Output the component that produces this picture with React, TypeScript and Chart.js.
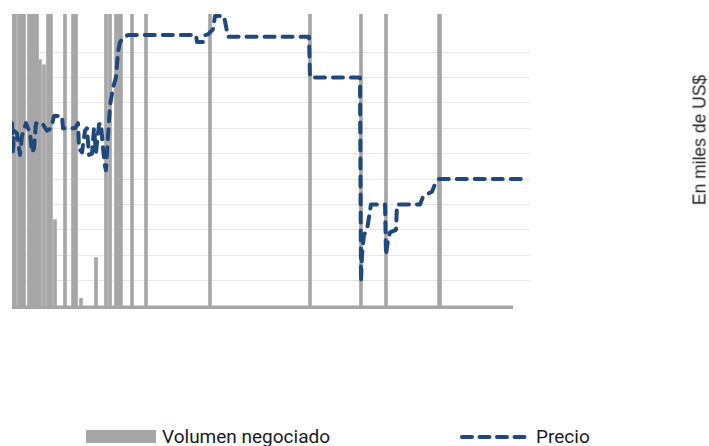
import React, { useEffect, useRef } from "react";
import { Chart, registerables } from "chart.js";

Chart.register(...registerables);

// Day offsets (from the first session shown) with traded volume
const volumeDays = [1, 3, 7, 10, 12, 17, 20, 22, 25, 28, 32, 36, 39, 43, 53, 61, 64, 69, 84, 94, 98, 104, 107, 109, 120, 134, 198, 298, 349, 374, 427, 428];
const volumeValues = [26, 19, 22, 17, 15, 28, 21, 16, 14, 9.7, 9.5, 24, 18, 3.4, 13, 20, 15, 0.3, 1.9, 17, 23, 30, 19, 25, 14, 12.5, 13, 16, 21, 14, 18, 27];

// Price series (thousand US$) sampled at the days where it changes
const priceDays = [
  0, 1, 2, 5, 8, 10, 14, 16, 18, 20, 22, 24, 27, 31, 35, 39, 42, 50, 51, 63,
  66, 67, 70, 73, 75, 77, 80, 82, 84, 87, 89, 91, 93, 94, 96, 98, 101, 104, 106, 108,
  112, 116, 184, 185, 191, 192, 196, 201, 203, 212, 216, 297, 298, 348, 349, 350, 352, 355, 357, 359,
  373, 374, 376, 378, 384, 385, 408, 411, 415, 420, 423, 427, 513,
];
const priceValues = [
  72, 60, 69, 68, 59.5, 67, 72, 70, 68, 60.5, 62, 72, 71, 71.5, 69, 70, 74.8, 74.8, 70, 70,
  72, 62, 60.5, 69, 70, 59.5, 60, 70, 60.5, 71.5, 72, 62, 55, 53.5, 67, 79, 86, 90, 100, 104,
  106, 106.7, 106.7, 104, 104, 106.5, 107, 109, 114.2, 114.2, 106, 106, 90, 90, 9.5, 20, 28, 30, 35, 40,
  40, 20, 26, 29, 30, 40, 40, 43, 44, 45, 48, 50, 50,
];

// Last day covered by the volume axis, and the full time window
const volumeAxisEnd = 501;
const windowDays = 518;

const GREY = "#a6a6a6";
const NAVY = "#1f497d";

export default function App() {
  const canvasRef = useRef<HTMLCanvasElement | null>(null);

  useEffect(() => {
    const canvas = canvasRef.current;
    if (!canvas) return;
    const chart = new Chart(canvas, {
      type: "bar",
      data: {
        datasets: [
          {
            type: "line",
            label: "Precio",
            data: priceDays.map((d, i) => ({ x: d, y: priceValues[i] })),
            yAxisID: "y1",
            borderColor: NAVY,
            borderWidth: 4,
            borderDash: [10, 8],
            borderCapStyle: "round",
            borderJoinStyle: "round",
            pointRadius: 0,
            tension: 0,
            fill: false,
            order: 0,
          },
          {
            type: "line",
            label: "base",
            data: [
              { x: 0, y: -0.05 },
              { x: volumeAxisEnd, y: -0.05 },
            ],
            yAxisID: "y",
            borderColor: GREY,
            borderWidth: 3.5,
            pointRadius: 0,
            fill: false,
            order: 1,
          },
          {
            type: "bar",
            label: "Volumen negociado",
            data: volumeDays.map((d, i) => ({ x: d, y: volumeValues[i] })),
            yAxisID: "y",
            backgroundColor: GREY,
            barThickness: 3,
            order: 2,
          },
        ],
      },
      options: {
        responsive: false,
        animation: false,
        layout: { padding: { left: 12, right: 179, top: 14, bottom: 11 } },
        plugins: { legend: { display: false }, tooltip: { enabled: false } },
        scales: {
          x: { type: "linear", min: 0, max: windowDays, offset: false, display: false },
          y: {
            min: -0.12,
            max: 11.5,
            ticks: { display: false, stepSize: 1 },
            border: { display: false },
            grid: {
              drawTicks: false,
              lineWidth: 1,
              color: (ctx: any) =>
                ctx.tick && Number.isInteger(ctx.tick.value) ? "#e6e6e6" : "rgba(0,0,0,0)",
            },
          },
          y1: { min: -1.2, max: 115, display: false, grid: { display: false } },
        },
      },
    } as any);
    return () => chart.destroy();
  }, []);

  return (
    <div style={{ position: "fixed", left: 0, top: 0, width: 709, height: 446, background: "#fff", overflow: "hidden" }}>
      <canvas ref={canvasRef} width={709} height={320} style={{ position: "absolute", left: 0, top: 0 }} />
      <div
        style={{
          position: "absolute",
          left: 700,
          top: 140,
          transform: "translate(-50%, -50%) rotate(-90deg)",
          whiteSpace: "nowrap",
          fontFamily: "'Liberation Sans', Arial, sans-serif",
          fontSize: 17.5,
          color: "#222",
        }}
      >
        En miles de US$
      </div>
      <div style={{ position: "absolute", left: 86, top: 430, width: 70, height: 13, background: GREY }} />
      <div
        style={{ position: "absolute", left: 162, top: 427, fontFamily: "Roboto, sans-serif", fontSize: 19, lineHeight: "19px", color: "#1a1a1a", whiteSpace: "nowrap" }}
      >
        Volumen negociado
      </div>
      <svg style={{ position: "absolute", left: 460, top: 433 }} width={70} height={8}>
        <line x1={2} y1={4} x2={68} y2={4} stroke={NAVY} strokeWidth={4} strokeDasharray="10 7.5" strokeLinecap="round" />
      </svg>
      <div
        style={{ position: "absolute", left: 536, top: 427, fontFamily: "Roboto, sans-serif", fontSize: 19, lineHeight: "19px", color: "#1a1a1a", whiteSpace: "nowrap" }}
      >
        Precio
      </div>
    </div>
  );
}
